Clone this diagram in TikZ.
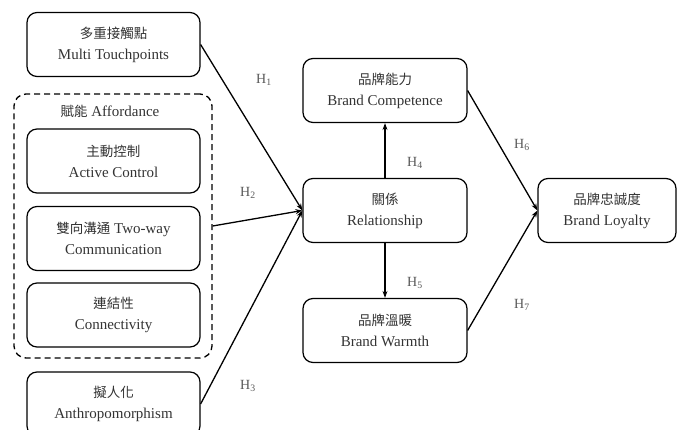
\documentclass[tikz,border=0pt]{standalone}
\usepackage{fontspec}
\setmainfont{Liberation Serif}
\newfontfamily\cjk{Noto Sans CJK TC}
\usepackage{tikz}
\usetikzlibrary{arrows.meta}

\tikzset{
  var/.style={draw, line width=1.2pt, rounded corners=10pt, align=center,
    minimum width=173pt, minimum height=64pt, inner sep=0pt,
    text=black!80, font=\fontsize{15}{21}\selectfont},
  hyp/.style={text=black!65, font=\fontsize{14}{16}\selectfont},
  link/.style={line width=1.3pt, -{Stealth[length=7pt,width=5pt]}}
}
\newcommand{\zh}[1]{{\cjk\fontsize{13.5}{21}\selectfont #1}}

\begin{document}
\begin{tikzpicture}[x=1pt, y=-1pt]
    \useasboundingbox (0,0) rectangle (678,430);

    % Draw the affordance group
    \node[draw, dashed, dash pattern=on 6pt off 4pt, line width=1.3pt,
          rounded corners=12pt, minimum width=198pt, minimum height=264pt]
          (aff) at (113,226) {};
    \node[text=black!80, font=\fontsize{15}{18}\selectfont] (afflabel) at (110,111)
          {\zh{賦能}\ Affordance};

    % Draw the antecedents
    \node[var] (touch) at (113.5,44.5) {\zh{多重接觸點}\\Multi Touchpoints};
    \node[var] (active) at (113.5,161) {\zh{主動控制}\\Active Control};
    \node[var] (twoway) at (113.5,238.5) {\zh{雙向溝通} Two-way\\Communication};
    \node[var] (conn) at (113.5,315) {\zh{連結性}\\Connectivity};
    \node[var] (anthro) at (113.5,404) {\zh{擬人化}\\Anthropomorphism};

    % Draw the mediators and the outcome
    \node[var, minimum width=164pt] (rel) at (385,210.5) {\zh{關係}\\Relationship};
    \node[var, minimum width=164pt] (comp) at (385,90.5) {\zh{品牌能力}\\Brand Competence};
    \node[var, minimum width=164pt] (warm) at (385,330.5) {\zh{品牌溫暖}\\Brand Warmth};
    \node[var, minimum width=138pt] (loyal) at (607,210.5) {\zh{品牌忠誠度}\\Brand Loyalty};

    % Draw the paths
    \draw[link] (touch.east) -- (rel.west);
    \draw[link] (aff.east) -- (rel.west);
    \draw[link] (anthro.east) -- (rel.west);
    \draw[link] (rel.north) -- (comp.south);
    \draw[link] (rel.south) -- (warm.north);
    \draw[link] (comp.east) -- (loyal.west);
    \draw[link] (warm.east) -- (loyal.west);

    % Hypothesis labels
    \node[hyp] (h1) at (264,80) {H\textsubscript{1}};
    \node[hyp] (h2) at (248,193) {H\textsubscript{2}};
    \node[hyp] (h3) at (248,386) {H\textsubscript{3}};
    \node[hyp] (h4) at (415,163) {H\textsubscript{4}};
    \node[hyp] (h5) at (415,283) {H\textsubscript{5}};
    \node[hyp] (h6) at (522,145) {H\textsubscript{6}};
    \node[hyp] (h7) at (522,305) {H\textsubscript{7}};

\end{tikzpicture}
\end{document}
